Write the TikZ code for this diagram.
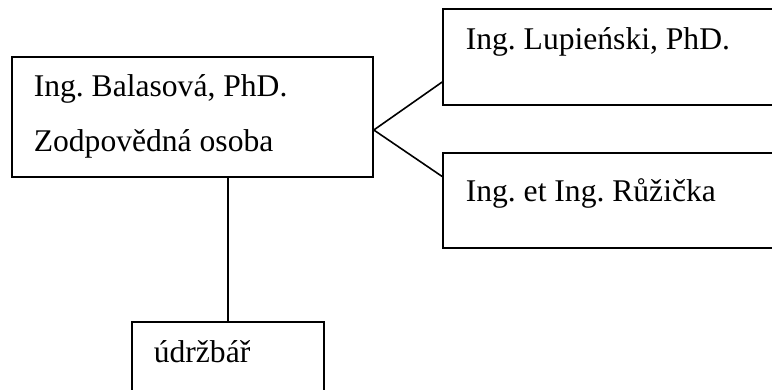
\documentclass[tikz,border=0pt]{standalone}
\usepackage{fontspec}
\setmainfont{Liberation Serif}
\frenchspacing
\begin{document}
\begin{tikzpicture}[x=0.5pt, y=-0.5pt, line width=0.8pt,
		box/.style={draw, rectangle, inner sep=0pt},
		txt/.style={anchor=base west, inner sep=0pt, font=\fontsize{15.8pt}{19pt}\selectfont}]
		\useasboundingbox (0, 0) rectangle (772, 390);
		
		\node[box, minimum width=180.5pt, minimum height=60pt] (bal) at (192.5, 117) {};
		\node[txt] (bal1) at (33, 97) {Ing. Balasová, PhD.};
		\node[txt] (bal2) at (33, 152) {Zodpovědná osoba};
		
		\node[box, minimum width=178.5pt, minimum height=48pt] (lup) at (621.5, 57) {};
		\node[txt] (lup1) at (465, 50) {Ing. Lupieński, PhD.};
		
		\node[box, minimum width=178.5pt, minimum height=47.5pt] (ruz) at (621.5, 200.5) {};
		\node[txt] (ruz1) at (465, 202) {Ing. et Ing. Růžička};
		
		\node[box, minimum width=96pt, minimum height=39pt] (udr) at (228, 361) {};
		\node[txt] (udr1) at (153, 362) {údržbář};
		
		\draw ([yshift=-6.5pt]bal.east) -- ([yshift=-12.5pt]lup.west)
			([yshift=-6.5pt]bal.east) -- ([yshift=12pt]ruz.west)
			(udr.north |- bal.south) -- (udr.north);
	\end{tikzpicture}
\end{document}
